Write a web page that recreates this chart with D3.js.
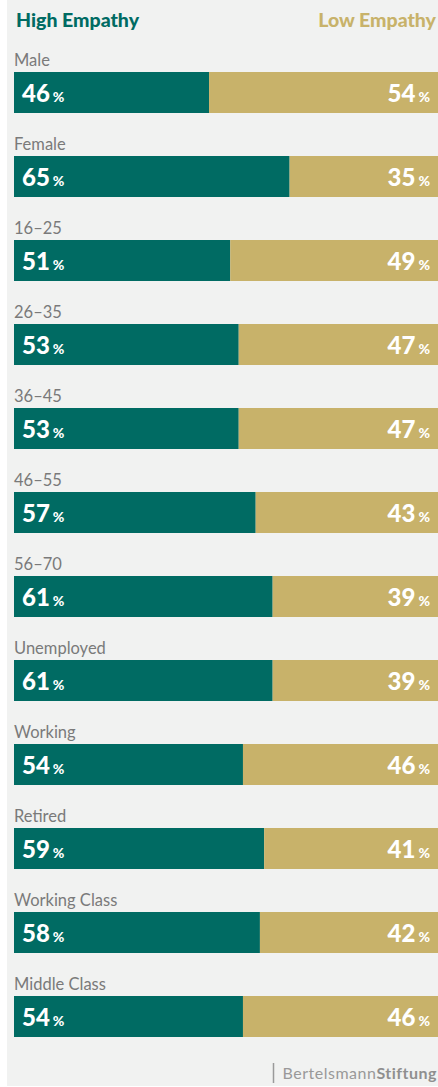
<!DOCTYPE html>
<html>
<head>
<meta charset="utf-8">
<script src="https://cdn.jsdelivr.net/npm/d3@7"></script>
<style>
  html, body { margin: 0; padding: 0; background: #ffffff; }
  svg { display: block; font-family: Lato, "Open Sans", sans-serif; }
</style>
</head>
<body>
<svg id="chart" width="438" height="1087"></svg>
<script>
// Share of respondents with high vs. low empathy, by group
const categories = ["Male", "Female", "16–25", "26–35", "36–45", "46–55", "56–70",
                    "Unemployed", "Working", "Retired", "Working Class", "Middle Class"];
const highEmpathy = [46, 65, 51, 53, 53, 57, 61, 61, 54, 59, 58, 54];
const lowEmpathy  = [54, 35, 49, 47, 47, 43, 39, 39, 46, 41, 42, 46];
const seriesNames = ["High Empathy", "Low Empathy"];

const W = 438, H = 1087;
const colors = { high: "#006b63", low: "#c8b26a" };

const svg = d3.select("#chart");

// panel background
svg.append("rect").attr("x", 7).attr("y", 0).attr("width", W - 7).attr("height", 1086)
  .attr("fill", "#f1f2f1");

// legend header
svg.append("text").attr("x", 16).attr("y", 27)
  .attr("font-size", 19.5).attr("font-weight", 900).attr("fill", colors.high)
  .text(seriesNames[0]);
svg.append("text").attr("x", 436).attr("y", 27).attr("text-anchor", "end")
  .attr("font-size", 19.5).attr("font-weight", 900).attr("fill", colors.low)
  .text(seriesNames[1]);

const x = d3.scaleLinear().domain([0, 100]).range([14, 438]);
const rowTop = d3.scaleBand().domain(categories).range([72 - 31, 72 - 31 + 84 * categories.length]);
const barOffset = 31, barH = 41;

const rows = svg.selectAll("g.row").data(categories).join("g")
  .attr("class", "row")
  .attr("transform", d => `translate(0,${rowTop(d)})`);

rows.append("text").attr("x", 14).attr("y", 25)
  .attr("font-size", 16.5).attr("fill", "#7a7a7a")
  .text(d => d);

rows.append("rect")
  .attr("x", x(0)).attr("y", barOffset)
  .attr("width", (d, i) => x(highEmpathy[i]) - x(0)).attr("height", barH)
  .attr("fill", colors.high);

rows.append("rect")
  .attr("x", (d, i) => x(highEmpathy[i])).attr("y", barOffset)
  .attr("width", (d, i) => x(highEmpathy[i] + lowEmpathy[i]) - x(highEmpathy[i])).attr("height", barH)
  .attr("fill", colors.low);

const hiLabel = rows.append("text").attr("x", 22).attr("y", barOffset + 30)
  .attr("fill", "#ffffff").attr("font-weight", 900);
hiLabel.append("tspan").attr("font-size", 24).text((d, i) => highEmpathy[i]);
hiLabel.append("tspan").attr("font-size", 14).attr("dx", 3).text("%");

const loLabel = rows.append("text").attr("x", 430).attr("y", barOffset + 30)
  .attr("text-anchor", "end").attr("fill", "#ffffff").attr("font-weight", 900);
loLabel.append("tspan").attr("font-size", 24).text((d, i) => lowEmpathy[i]);
loLabel.append("tspan").attr("font-size", 14).attr("dx", 3).text("%");

// publisher mark
svg.append("line").attr("x1", 273.5).attr("x2", 273.5).attr("y1", 1063).attr("y2", 1083)
  .attr("stroke", "#9a9a9a").attr("stroke-width", 1.5);
const brand = svg.append("text").attr("x", 437).attr("y", 1079).attr("text-anchor", "end")
  .attr("font-size", 16).attr("fill", "#999999").attr("letter-spacing", 0.5);
brand.append("tspan").text("Bertelsmann");
brand.append("tspan").attr("font-weight", 700).attr("fill", "#8f8f8f").text("Stiftung");
</script>
</body>
</html>
